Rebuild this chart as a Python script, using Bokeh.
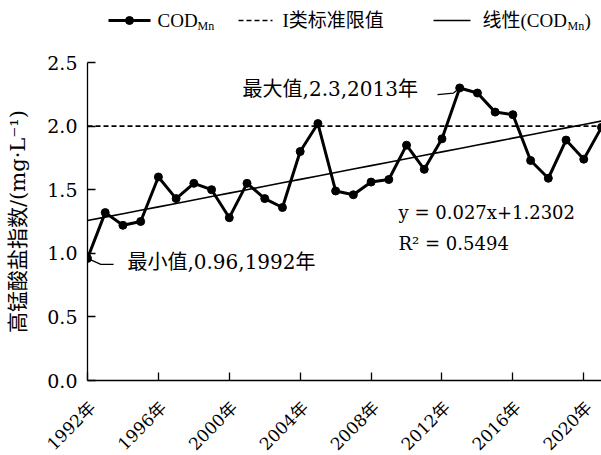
import math

from bokeh.core.properties import value
from bokeh.embed import file_html
from bokeh.layouts import column
from bokeh.models import FixedTicker, NumeralTickFormatter, Range1d
from bokeh.plotting import figure
from bokeh.resources import INLINE

# ---- data -----------------------------------------------------------------
years = list(range(1992, 2022))
cod_mn = [0.96, 1.32, 1.22, 1.25, 1.60, 1.43, 1.55, 1.50, 1.28, 1.55,
          1.43, 1.36, 1.80, 2.02, 1.49, 1.46, 1.56, 1.58, 1.85, 1.66,
          1.90, 2.30, 2.26, 2.11, 2.09, 1.73, 1.59, 1.89, 1.74, 1.99]
class_i_limit = 2.0          # Class I standard limit, mg/L
trend_slope = 0.027          # linear fit y = a*x + b, x = 1..n
trend_intercept = 1.2302
r_squared = 0.5494
tick_years = [1992, 1996, 2000, 2004, 2008, 2012, 2016, 2020]
tick_labels = [f"{y}年" for y in tick_years]
y_ticks = [0.0, 0.5, 1.0, 1.5, 2.0, 2.5]

# ---- styling / layout -----------------------------------------------------
FONT = "DejaVu Serif, Noto Sans CJK SC"
LEG_FONT = "Liberation Serif, Noto Sans CJK SC"
BLACK = "#000000"
W = 601
FRAME_LEFT = 87
FRAME_W = W - FRAME_LEFT
LEG_H = 40
MAIN_TOP = 22
FRAME_H = 318
MAIN_BOTTOM = 10
STRIP_H = 455 - LEG_H - MAIN_TOP - FRAME_H - MAIN_BOTTOM

trend = [trend_slope * (i + 1) + trend_intercept for i in range(len(years))]

# ---- main chart -----------------------------------------------------------
p = figure(width=W, height=MAIN_TOP + FRAME_H + MAIN_BOTTOM,
           x_range=Range1d(years[0], years[-1]), y_range=Range1d(0, 2.5),
           output_backend="svg", toolbar_location=None,
           min_border_left=FRAME_LEFT, min_border_right=0,
           min_border_top=MAIN_TOP, min_border_bottom=MAIN_BOTTOM)
p.outline_line_color = None
p.xgrid.grid_line_color = None
p.ygrid.grid_line_color = None

# Class I limit (dashed)
p.line([years[0], years[-1]], [class_i_limit, class_i_limit],
       line_color=BLACK, line_width=1.6, line_dash="5 3")
# linear trend
p.line(years, trend, line_color=BLACK, line_width=1.6)
# observed series
p.line(years, cod_mn, line_color=BLACK, line_width=3)
p.scatter(years, cod_mn, size=8, fill_color=BLACK, line_color=BLACK)

# axes
for ax in (p.xaxis, p.yaxis):
    ax.axis_line_color = BLACK
    ax.axis_line_width = 1.3
    ax.major_tick_line_color = BLACK
    ax.major_tick_line_width = 1.3
    ax.major_tick_in = 8
    ax.major_tick_out = 0
    ax.minor_tick_line_color = None
    ax.major_label_text_font = FONT
    ax.major_label_text_color = BLACK

p.xaxis.ticker = FixedTicker(ticks=tick_years)
p.xaxis.major_label_overrides = {y: "" for y in tick_years}
p.xaxis.major_label_text_font_size = "0px"
p.xaxis.major_label_standoff = 0

p.yaxis.ticker = FixedTicker(ticks=y_ticks)
p.yaxis.formatter = NumeralTickFormatter(format="0.0")
p.yaxis.major_label_standoff = 10
p.yaxis.major_label_text_font_size = "19px"
p.yaxis.axis_label = "高锰酸盐指数/(mg·L⁻¹)"
p.yaxis.axis_label_text_font = FONT
p.yaxis.axis_label_text_font_size = "21px"
p.yaxis.axis_label_text_font_style = "normal"
p.yaxis.axis_label_text_color = BLACK
p.yaxis.axis_label_standoff = 14

# min / max callouts
i_max = cod_mn.index(max(cod_mn))
i_min = cod_mn.index(min(cod_mn))
max_text = f"最大值,{cod_mn[i_max]:g},{years[i_max]}年"
min_text = f"最小值,{cod_mn[i_min]:g},{years[i_min]}年"

p.line([years[i_max] - 1.25, years[i_max] - 0.35, years[i_max]],
       [cod_mn[i_max] - 0.052, cod_mn[i_max] - 0.04, cod_mn[i_max]],
       line_color=BLACK, line_width=1.2)
p.text([years[i_max] - 12.25], [cod_mn[i_max] - 0.012], text=[max_text],
       text_font=value(FONT), text_font_size="20px", text_color=BLACK,
       text_align="left", text_baseline="middle")

p.line([years[i_min], years[i_min] + 0.75, years[i_min] + 1.47],
       [cod_mn[i_min], cod_mn[i_min] - 0.047, cod_mn[i_min] - 0.047],
       line_color=BLACK, line_width=1.2)
p.text([years[i_min] + 2.25], [cod_mn[i_min] - 0.032], text=[min_text],
       text_font=value(FONT), text_font_size="20px", text_color=BLACK,
       text_align="left", text_baseline="middle")

# regression equation
eq_text = f"y = {trend_slope}x+{trend_intercept}"
r2_text = f"R² = {r_squared}"
p.text([2009.55], [1.32], text=[eq_text],
       text_font=value(FONT), text_font_size="18px", text_color=BLACK,
       text_align="left", text_baseline="middle")
p.text([2009.55], [1.077], text=[r2_text],
       text_font=value(FONT), text_font_size="18px", text_color=BLACK,
       text_align="left", text_baseline="middle")

# ---- slanted year labels in a strip under the chart -----------------------
yr_per_px = (years[-1] - years[0]) / FRAME_W
strip = figure(width=W, height=STRIP_H,
               x_range=Range1d(years[0] - FRAME_LEFT * yr_per_px, years[-1]),
               y_range=Range1d(STRIP_H, 0),
               output_backend="svg", toolbar_location=None,
               x_axis_type=None, y_axis_type=None, min_border=0)
strip.frame_align = False
strip.outline_line_color = None
strip.xgrid.grid_line_color = None
strip.ygrid.grid_line_color = None
strip.text([y + 5 * yr_per_px for y in tick_years], [14] * len(tick_years), text=tick_labels,
           angle=math.pi / 4, text_font=value(FONT), text_font_size="17px",
           text_color=BLACK, text_align="right", text_baseline="middle")

# ---- legend strip (x in page pixels, y from the top) ----------------------
leg = figure(width=W, height=LEG_H, x_range=Range1d(FRAME_LEFT, W), y_range=Range1d(LEG_H, 0),
             output_backend="svg", toolbar_location=None,
             x_axis_type=None, y_axis_type=None,
             min_border_left=FRAME_LEFT, min_border_right=0,
             min_border_top=0, min_border_bottom=0)
leg.outline_line_color = None
leg.xgrid.grid_line_color = None
leg.ygrid.grid_line_color = None


def leg_text(x, y, s, size="19px"):
    leg.text([x], [y], text=[s], text_font=value(LEG_FONT), text_font_size=size,
             text_align="left", text_baseline="middle", text_color=BLACK)


row_y = 20
# series item
leg.line([108, 150], [row_y, row_y], line_color=BLACK, line_width=3)
leg.scatter([129], [row_y], size=8, fill_color=BLACK, line_color=BLACK)
leg_text(157, row_y, "COD")
leg_text(197, row_y + 5, "Mn", "12px")
# limit item
leg.line([238, 272], [row_y, row_y], line_color=BLACK, line_width=1.6, line_dash="5 3")
leg_text(282, row_y, "I类标准限值")
# trend item
leg.line([433, 470], [row_y, row_y], line_color=BLACK, line_width=1.6)
leg_text(482, row_y, "线性")
leg_text(520, row_y, "(COD")
leg_text(567, row_y + 5, "Mn", "12px")
leg_text(584, row_y, ")")

layout = column(leg, p, strip, spacing=0)

with open("out.html", "w") as f:
    f.write(file_html(layout, INLINE))
